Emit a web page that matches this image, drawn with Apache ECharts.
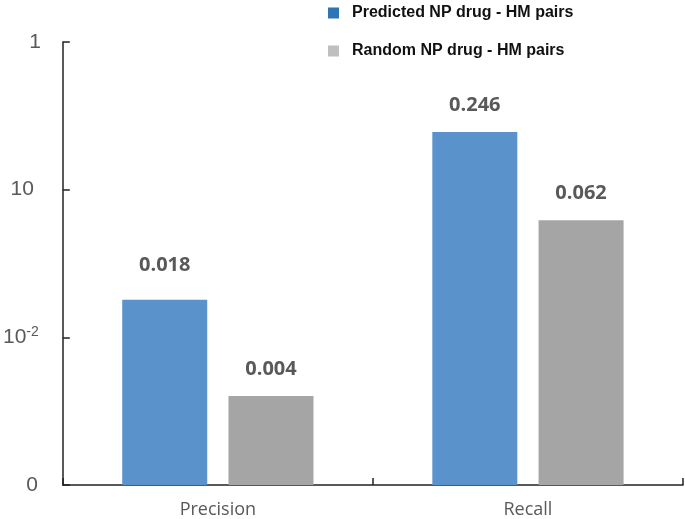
<!DOCTYPE html>
<html>
<head>
<meta charset="utf-8">
<script src="https://cdn.jsdelivr.net/npm/echarts@6/dist/echarts.min.js"></script>
<style>html,body{margin:0;padding:0;background:#fff}#c{width:685px;height:519px}</style>
</head>
<body>
<div id="c"></div>
<script>
var categories = ['Precision', 'Recall'];
var predicted = [0.018, 0.246];
var random = [0.004, 0.062];
var seriesNames = ['Predicted NP drug - HM pairs', 'Random NP drug - HM pairs'];
// tick labels at 10^-3, 10^-2, 10^-1, 10^0 as printed on the original chart
var yTickLabels = ['0', '10^-2', '10', '1'];

var chart = echarts.init(document.getElementById('c'));
var labelStyle = {
  show: true, position: 'top', distance: 17,
  fontFamily: 'Open Sans', fontWeight: 'bold', fontSize: 20, color: '#595959'
};
var predictedData = predicted.map(function (v, i) {
  return i === 0 ? { value: v, label: { distance: 24 } } : v;
});
var F = 'Liberation Sans';
chart.setOption({
  animation: false,
  grid: { left: 62, right: 2, top: 42, bottom: 34, containLabel: false },
  legend: {
    orient: 'vertical', left: 323, top: 0, itemGap: 22,
    itemWidth: 11, itemHeight: 11, icon: 'rect',
    textStyle: { fontFamily: F, fontWeight: 'bold', fontSize: 16, color: '#111', padding: [0, 0, 0, 8] },
    data: [
      { name: seriesNames[0], itemStyle: { color: '#2E75B6' } },
      { name: seriesNames[1], itemStyle: { color: '#BFBFBF' } }
    ]
  },
  xAxis: {
    type: 'category', data: categories,
    axisLine: { lineStyle: { color: '#222', width: 1.5 } },
    axisTick: { show: true, inside: true, length: 7, interval: 0, lineStyle: { color: '#222', width: 1.5 } },
    axisLabel: { margin: 16, fontFamily: 'Open Sans', fontSize: 18, color: '#595959' }
  },
  yAxis: {
    type: 'log', logBase: 10, min: 0.001, max: 1, startValue: 0.001,
    splitLine: { show: false },
    axisLine: { show: true, lineStyle: { color: '#222', width: 1.5 } },
    axisTick: { show: true, inside: true, length: 7, lineStyle: { color: '#222', width: 1.5 } },
    axisLabel: {
      margin: 22, fontFamily: F, fontSize: 21, color: '#595959',
      formatter: function (v) {
        var e = Math.round(Math.log10(v));
        var t = yTickLabels[e + 3];
        if (t === undefined) return '';
        if (t.indexOf('^') >= 0) {
          var p = t.split('^');
          return '{b|' + p[0] + '}{s|' + p[1] + '}';
        }
        if (t === '10') return '{p7|' + t + '}';
        if (t === '0') return '{p3|' + t + '}';
        return '{b|' + t + '}';
      },
      rich: {
        b: { fontFamily: F, fontSize: 21, color: '#595959', lineHeight: 24 },
        s: { fontFamily: F, fontSize: 14, color: '#595959', verticalAlign: 'top', lineHeight: 24, padding: [0, 2, 0, 0] },
        p7: { fontFamily: F, fontSize: 21, color: '#595959', lineHeight: 24, padding: [0, 7, 0, 0] },
        p3: { fontFamily: F, fontSize: 21, color: '#595959', lineHeight: 24, padding: [0, 3, 0, 0] }
      }
    }
  },
  series: [
    {
      name: seriesNames[0], type: 'bar', data: predictedData,
      barWidth: 85, barGap: '25%',
      itemStyle: { color: '#5A92CC' },
      label: labelStyle
    },
    {
      name: seriesNames[1], type: 'bar', data: random,
      barWidth: 85,
      itemStyle: { color: '#A5A5A5' },
      label: labelStyle
    }
  ]
});
</script>
</body>
</html>
